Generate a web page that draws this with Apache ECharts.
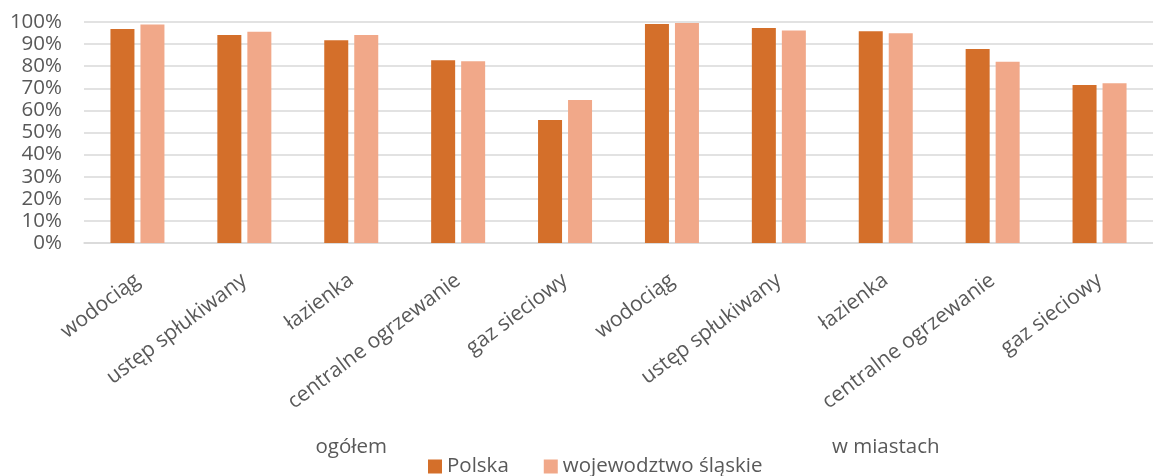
<!DOCTYPE html>
<html>
<head>
<meta charset="utf-8">
<script src="https://cdn.jsdelivr.net/npm/echarts@6/dist/echarts.min.js"></script>
<style>
html,body{margin:0;padding:0;background:#fff;}
#chart{width:1153px;height:476px;}
</style>
</head>
<body>
<div id="chart"></div>
<script>
const categories = ['wodociąg','ustęp spłukiwany','łazienka','centralne ogrzewanie','gaz sieciowy',
                    'wodociąg','ustęp spłukiwany','łazienka','centralne ogrzewanie','gaz sieciowy'];
const groups = ['ogółem','w miastach'];
const seriesNames = ['Polska','wojewodztwo śląskie'];
const polska  = [0.968, 0.941, 0.917, 0.827, 0.557, 0.991, 0.973, 0.958, 0.878, 0.715];
const slaskie = [0.989, 0.956, 0.941, 0.822, 0.647, 0.995, 0.962, 0.949, 0.820, 0.723];
const yTicks = [0, 0.1, 0.2, 0.3, 0.4, 0.5, 0.6, 0.7, 0.8, 0.9, 1.0];

const FONT = 'Open Sans';
const GRAY = '#595959';

const chart = echarts.init(document.getElementById('chart'));
chart.setOption({
  animation: false,
  textStyle: {fontFamily: FONT},
  grid: {left: 84, top: 22, width: 1082, height: 221, containLabel: false},
  legend: {
    data: seriesNames,
    top: 451, left: 423,
    icon: 'rect', itemWidth: 14, itemHeight: 14, itemGap: 35,
    textStyle: {fontFamily: FONT, fontSize: 20.5, color: GRAY}
  },
  xAxis: [{
    type: 'category',
    data: categories,
    axisLine: {lineStyle: {color: '#d9d9d9', width: 1.5}},
    axisTick: {show: false},
    axisLabel: {rotate: 37, interval: 0, margin: 35, fontSize: 21, color: GRAY, fontFamily: FONT}
  }, {
    type: 'category',
    data: groups,
    position: 'bottom',
    axisLine: {show: false},
    axisTick: {show: false},
    axisLabel: {interval: 0, margin: 194, fontSize: 20.5, color: GRAY, fontFamily: FONT}
  }],
  yAxis: {
    type: 'value', min: yTicks[0], max: yTicks[yTicks.length-1], interval: 0.1,
    axisLine: {show: false}, axisTick: {show: false},
    splitLine: {lineStyle: {color: '#d9d9d9', width: 1.5}},
    axisLabel: {margin: 22, fontSize: 20.5, color: GRAY, fontFamily: FONT,
      formatter: v => Math.round(v*100) + '%'}
  },
  series: [{
    name: seriesNames[0], type: 'bar', data: polska, barWidth: 24, barGap: '25%',
    itemStyle: {color: '#D46F2A'}
  }, {
    name: seriesNames[1], type: 'bar', data: slaskie, barWidth: 24, barGap: '25%',
    itemStyle: {color: '#F1A889'}
  }]
});
</script>
</body>
</html>
